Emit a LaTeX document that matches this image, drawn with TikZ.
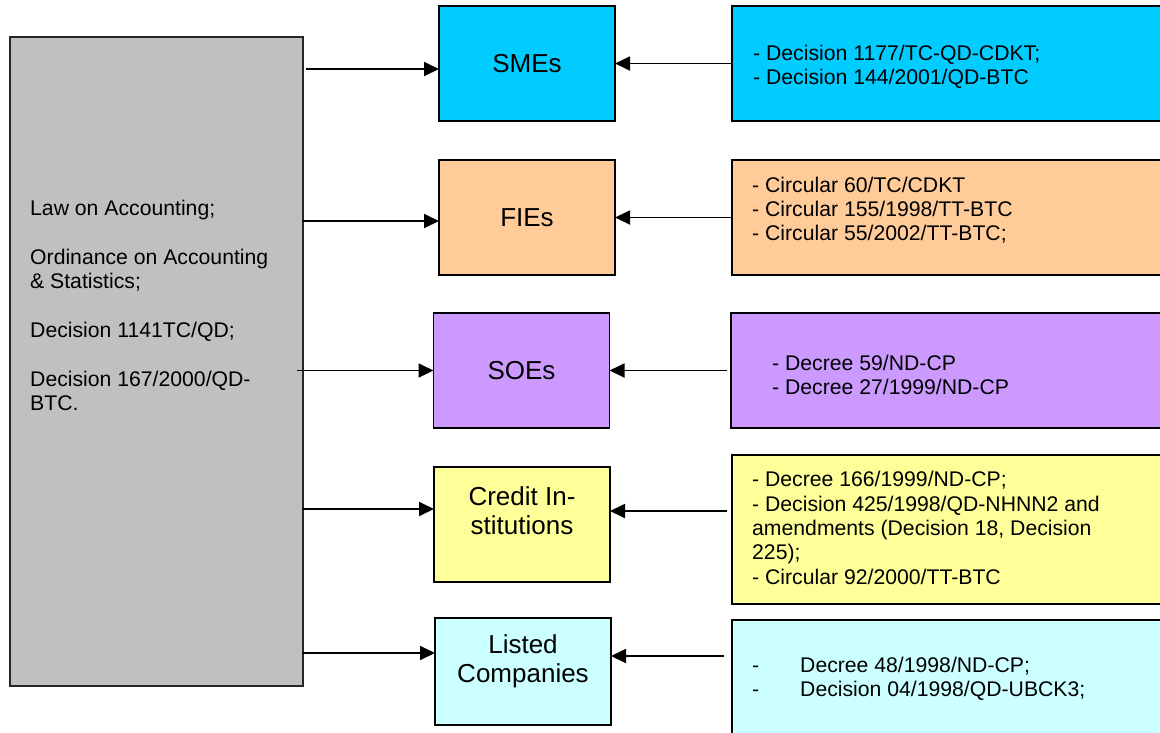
\documentclass[tikz,border=0pt]{standalone}
\usepackage{fontspec}
\setmainfont{Liberation Sans}
\usetikzlibrary{arrows.meta,calc}
\definecolor{lawgray}{HTML}{C0C0C0}
\definecolor{smecol}{HTML}{00CCFF}
\definecolor{fiecol}{HTML}{FFCC99}
\definecolor{soecol}{HTML}{CC99FF}
\definecolor{cicol}{HTML}{FFFF99}
\definecolor{lccol}{HTML}{CCFFFF}
\begin{document}
\begin{tikzpicture}[x=1pt,y=-1pt,
  box/.style={draw=black, line width=1.8pt, inner sep=0pt, outer sep=0pt},
  midbox/.style={box, minimum width=176pt, minimum height=115pt,
    font=\fontsize{26}{29}\selectfont, align=center},
  regbox/.style={box, minimum width=443pt},
  regtext/.style={anchor=west, inner sep=0pt, align=left,
    font=\fontsize{21.2}{24.3}\selectfont},
  arr/.style={line width=1.8pt, -{Triangle[length=15pt,width=14pt]}}
]
\useasboundingbox (0,0) rectangle (1160,732);
\clip (0,0) rectangle (1160,732);

% common legal framework
\node[box, draw=black!85, line width=1.5pt, fill=lawgray,
      minimum width=293pt, minimum height=649pt] (gray) at (156.5,361.5) {};
\node[regtext] (lawtext) at (30,305.5)
  {Law on Accounting;\\[24.4pt]Ordinance on Accounting\\\& Statistics;\\[24.4pt]Decision 1141TC/QD;\\[24.4pt]Decision 167/2000/QD-\\BTC.};

% enterprise categories
\node[midbox, fill=smecol] (smes) at (527,63.5) {SMEs};
\node[midbox, fill=fiecol] (fies) at (527,217.5) {FIEs};
\node[midbox, fill=soecol] (soes) at (521.5,370.5) {SOEs};
\node[midbox, fill=cicol] (ci) at (522,524.5) {};
\node[font=\fontsize{26}{29}\selectfont, align=center, inner sep=0pt] (citext) at (522,511) {Credit In-\\stitutions};
\node[midbox, fill=lccol, minimum height=107pt] (lc) at (523,671.5) {};
\node[font=\fontsize{26}{29}\selectfont, align=center, inner sep=0pt] (lctext) at (523,661) {Listed\\Companies};

% specific regulations
\node[regbox, fill=smecol, minimum height=115pt] (r1) at (953.5,63.5) {};
\node[regbox, fill=fiecol, minimum height=115pt] (r2) at (953.5,217.5) {};
\node[regbox, fill=soecol, minimum height=115pt] (r3) at (952.5,370.5) {};
\node[regbox, fill=cicol, minimum height=149pt] (r4) at (953.5,529.5) {};
\node[regbox, fill=lccol, minimum height=140pt] (r5) at (953.5,690) {};

\node[regtext] (t1) at (753,67) {- Decision 1177/TC-QD-CDKT;\\- Decision 144/2001/QD-BTC};
\node[regtext] (t2) at (752,210) {- Circular 60/TC/CDKT\\- Circular 155/1998/TT-BTC\\- Circular 55/2002/TT-BTC;};
\node[regtext] (t3) at (772,375) {- Decree 59/ND-CP\\- Decree 27/1999/ND-CP};
\node[regtext] (t4) at (752,528) {- Decree 166/1999/ND-CP;\\- Decision 425/1998/QD-NHNN2 and\\amendments (Decision 18, Decision\\225);\\- Circular 92/2000/TT-BTC};
\node[regtext] (t5) at (752,679) {\makebox[48pt][l]{-}Decree 48/1998/ND-CP;\\\makebox[48pt][l]{-}Decision 04/1998/QD-UBCK3;};

% connectors from the framework
\coordinate (s1) at ([yshift=-5.5pt]smes.west);
\coordinate (g1) at ([xshift=3pt]gray.east);
\draw[arr] (g1 |- s1) -- (s1);
\coordinate (s2) at ([yshift=-3.5pt]fies.west);
\draw[arr] (gray.east |- s2) -- (s2);
\coordinate (g3) at ([xshift=-6pt]gray.east);
\draw[arr] (g3 |- soes.west) -- (soes.west);
\coordinate (s4) at ([yshift=15.5pt]ci.west);
\draw[arr] (gray.east |- s4) -- (s4);
\coordinate (s5) at ([yshift=18.5pt]lc.west);
\draw[arr] (gray.east |- s5) -- (s5);

% connectors from the specific regulations
\draw[arr] (r1.west) -- (smes.east);
\draw[arr] (r2.west) -- (fies.east);
\coordinate (q3) at ([xshift=-4pt]r3.west);
\draw[arr] (q3 |- soes.east) -- (soes.east);
\coordinate (e4) at ([yshift=13.5pt]ci.east);
\coordinate (q4) at ([xshift=-5pt]r4.west);
\draw[arr] (q4 |- e4) -- (e4);
\coordinate (e5) at ([yshift=15.5pt]lc.east);
\coordinate (q5) at ([xshift=-8pt]r5.west);
\draw[arr] (q5 |- e5) -- (e5);
\end{tikzpicture}
\end{document}
